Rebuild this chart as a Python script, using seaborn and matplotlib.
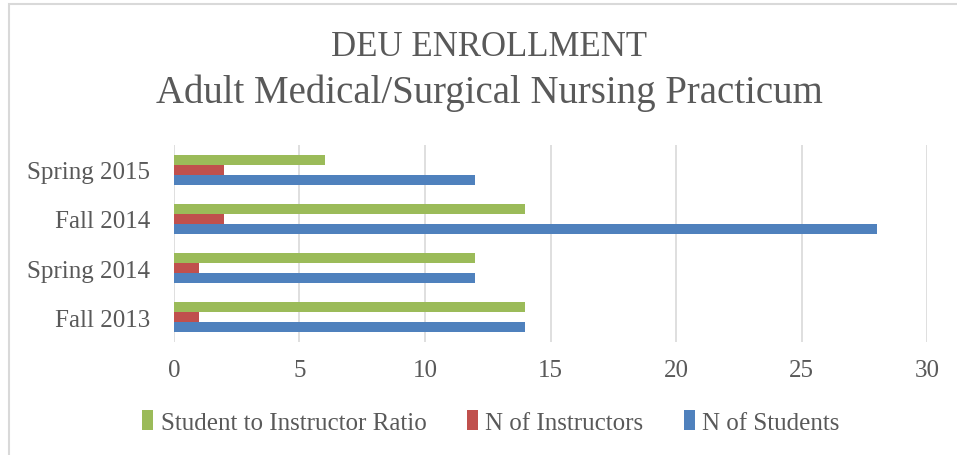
import matplotlib
matplotlib.use("Agg")
import matplotlib.pyplot as plt
import pandas as pd
import seaborn as sns
from matplotlib.patches import Rectangle, Patch

# values
terms = ["Spring 2015", "Fall 2014", "Spring 2014", "Fall 2013"]
ratio = [6, 14, 12, 14]
instructors = [2, 2, 1, 1]
students = [12, 28, 12, 14]
series = ["Student to Instructor Ratio", "N of Instructors", "N of Students"]
colors = ["#9BBB59", "#C0504D", "#4F81BD"]

df = pd.DataFrame({
    "term": terms * 3,
    "value": ratio + instructors + students,
    "series": [series[0]] * 4 + [series[1]] * 4 + [series[2]] * 4,
})

sns.set_theme(style="white")
plt.rcParams["font.family"] = ["Liberation Serif", "DejaVu Serif"]
text_col = "#595959"

fig = plt.figure(figsize=(9.57, 4.56), dpi=100)
ax = fig.add_axes([0.1818, 0.2478, 0.7869, 0.432])

sns.barplot(data=df, x="value", y="term", hue="series", order=terms,
            hue_order=series, palette=colors, orient="h", width=0.61,
            saturation=1, edgecolor="none", legend=False, ax=ax)

ax.set_xlim(0, 30)
ax.set_xticks(range(0, 31, 5))
ax.grid(axis="x", color="#D9D9D9", linewidth=1.2)
ax.set_axisbelow(True)
for s in ax.spines.values():
    s.set_visible(False)
ax.set_xlabel("")
ax.set_ylabel("")
ax.tick_params(axis="y", length=0, pad=17, labelsize=18, labelcolor=text_col)
ax.tick_params(axis="x", length=0, pad=12, labelsize=18, labelcolor=text_col)

handles = [Patch(facecolor=c, edgecolor="none") for c in colors]
fig.legend(handles, series, loc="center", bbox_to_anchor=(0.513, 0.072),
           ncol=3, frameon=False, fontsize=18, labelcolor=text_col,
           handlelength=0.45, handleheight=0.82, handletextpad=0.3,
           columnspacing=1.6)

fig.text(0.511, 0.895, "DEU ENROLLMENT", ha="center", va="center",
         fontsize=25, color=text_col)
fig.text(0.511, 0.796, "Adult Medical/Surgical Nursing Practicum",
         ha="center", va="center", fontsize=28, color=text_col)

# chart frame (runs off the right and bottom edge)
fig.patches.append(Rectangle((9 / 957, -0.1), 1.2, 1 - 5 / 456 + 0.1,
                             transform=fig.transFigure, fill=False,
                             edgecolor="#D9D9D9", linewidth=1.5))

fig.savefig("out.png", dpi=100)
